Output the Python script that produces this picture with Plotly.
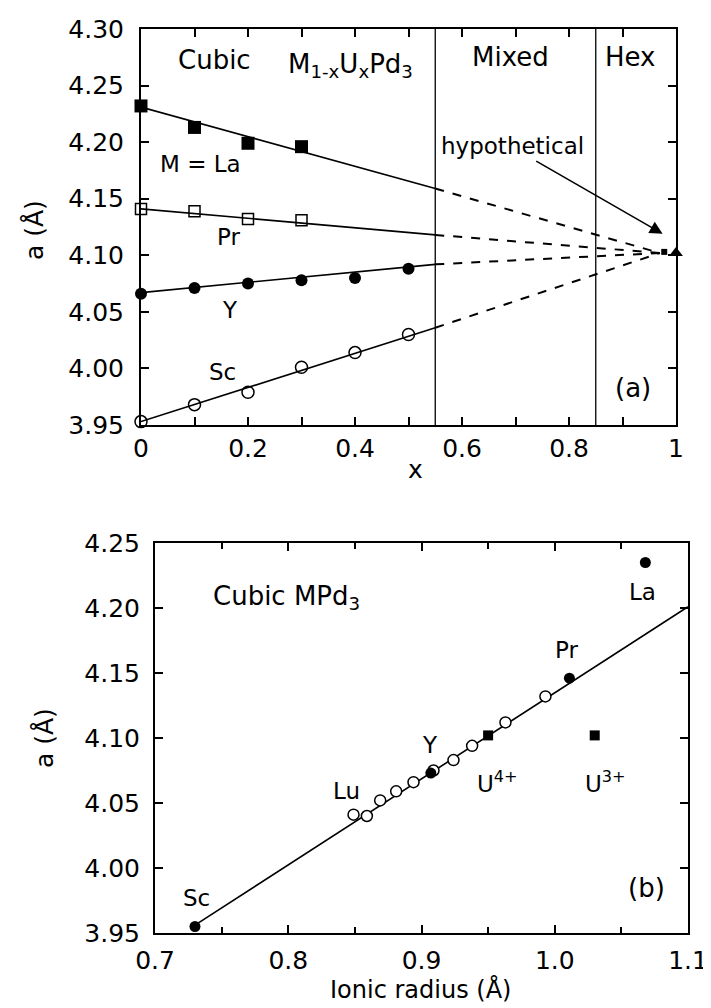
import plotly.graph_objects as go

FONT = "DejaVu Sans, Liberation Sans, Arial, sans-serif"

# ---------------- panel (a) data ----------------
x_meas = [0.0, 0.1, 0.2, 0.3]
x_meas6 = [0.0, 0.1, 0.2, 0.3, 0.4, 0.5]
la_a = [4.232, 4.213, 4.199, 4.196]
pr_a = [4.141, 4.139, 4.132, 4.131]
y_a = [4.066, 4.071, 4.075, 4.078, 4.080, 4.088]
sc_a = [3.953, 3.968, 3.979, 4.001, 4.014, 4.030]

# fitted lines: solid part (x=0 .. 0.55) and dashed extrapolation to hypothetical point
fit_x_solid = [0.0, 0.55]
fit_x_dash = [0.55, 0.97]
la_fit = [4.231, 4.159]
pr_fit = [4.141, 4.118]
y_fit = [4.067, 4.092]
sc_fit = [3.953, 4.036]
conv_y = 4.102

hyp_x = [0.978]
hyp_y = [4.103]
upd3_x = [1.0]
upd3_y = [4.102]

phase_bounds = [0.55, 0.85]

# ---------------- panel (b) data ----------------
open_r = [0.849, 0.859, 0.869, 0.881, 0.894, 0.909, 0.924, 0.938, 0.963, 0.993]
open_a = [4.041, 4.040, 4.052, 4.059, 4.066, 4.075, 4.083, 4.094, 4.112, 4.132]
filled_r = [0.730, 0.907, 1.011, 1.068]
filled_a = [3.955, 4.073, 4.146, 4.235]
u_r = [0.950, 1.030]
u_a = [4.102, 4.102]
line_r = [0.730, 1.100]
line_a = [3.956, 4.201]

# page geometry: the figure sits 8 px in from the page corner (default body margin)
W, H, OFF = 703, 1000, 8


def px_x(p):
    return (p - OFF) / W


def px_y(p):
    return 1 - (p - OFF) / H


fig = go.Figure()

# panel (a)
for fy in [la_fit, pr_fit, y_fit, sc_fit]:
    fig.add_trace(go.Scatter(x=fit_x_solid, y=fy, mode="lines",
                             line=dict(color="black", width=1.6), xaxis="x", yaxis="y"))
    fig.add_trace(go.Scatter(x=fit_x_dash, y=[fy[-1], conv_y], mode="lines",
                             line=dict(color="black", width=2, dash="dash"), xaxis="x", yaxis="y"))

for xb in phase_bounds:
    fig.add_trace(go.Scatter(x=[xb, xb], y=[3.95, 4.30], mode="lines",
                             line=dict(color="black", width=1.3), xaxis="x", yaxis="y"))

fig.add_trace(go.Scatter(x=x_meas, y=la_a, mode="markers", cliponaxis=False,
                         marker=dict(symbol="square", size=13, color="black"), xaxis="x", yaxis="y"))
fig.add_trace(go.Scatter(x=x_meas, y=pr_a, mode="markers", cliponaxis=False,
                         marker=dict(symbol="square-open", size=11, color="black", line=dict(width=1.5)),
                         xaxis="x", yaxis="y"))
fig.add_trace(go.Scatter(x=x_meas6, y=y_a, mode="markers", cliponaxis=False,
                         marker=dict(symbol="circle", size=12, color="black"), xaxis="x", yaxis="y"))
fig.add_trace(go.Scatter(x=x_meas6, y=sc_a, mode="markers", cliponaxis=False,
                         marker=dict(symbol="circle-open", size=12, color="black", line=dict(width=1.5)),
                         xaxis="x", yaxis="y"))
fig.add_trace(go.Scatter(x=hyp_x, y=hyp_y, mode="markers", cliponaxis=False,
                         marker=dict(symbol="square", size=6, color="black"), xaxis="x", yaxis="y"))
fig.add_trace(go.Scatter(x=upd3_x, y=upd3_y, mode="markers", cliponaxis=False,
                         marker=dict(symbol="triangle-up", size=12, color="black"), xaxis="x", yaxis="y"))

# panel (b)
fig.add_trace(go.Scatter(x=line_r, y=line_a, mode="lines",
                         line=dict(color="black", width=1.6), xaxis="x2", yaxis="y2"))
fig.add_trace(go.Scatter(x=open_r, y=open_a, mode="markers", cliponaxis=False,
                         marker=dict(symbol="circle", size=11, color="white", line=dict(width=1.5, color="black")),
                         xaxis="x2", yaxis="y2"))
fig.add_trace(go.Scatter(x=filled_r, y=filled_a, mode="markers", cliponaxis=False,
                         marker=dict(symbol="circle", size=11, color="black"), xaxis="x2", yaxis="y2"))
fig.add_trace(go.Scatter(x=u_r, y=u_a, mode="markers", cliponaxis=False,
                         marker=dict(symbol="square", size=10, color="black"), xaxis="x2", yaxis="y2"))

axis_common = dict(showgrid=False, zeroline=False, showline=True, linecolor="black", linewidth=2,
                   mirror="allticks", ticks="inside", ticklen=8, tickwidth=1.5, tickcolor="black",
                   automargin=False,
                   tickfont=dict(family=FONT, size=25, color="black"))

fig.update_layout(
    template="none",
    width=W, height=H, margin=dict(l=0, r=0, t=0, b=0, pad=0),
    paper_bgcolor="white", plot_bgcolor="white", showlegend=False,
    xaxis=dict(domain=[px_x(141), px_x(676)], range=[0, 1], dtick=0.2, tick0=0, anchor="y",
               minor=dict(dtick=0.1, ticks="inside", ticklen=8, tickcolor="black", tickwidth=1.5),
               ticklabelstandoff=0, **axis_common),
    yaxis=dict(domain=[px_y(425), px_y(29)], range=[3.95, 4.30], dtick=0.05, tick0=3.95,
               tickformat=".2f", anchor="x", ticklabelstandoff=10, **axis_common),
    xaxis2=dict(domain=[px_x(155), px_x(688)], range=[0.7, 1.1], dtick=0.1, tick0=0.7, tickformat=".1f",
                anchor="y2",
                minor=dict(dtick=0.05, ticks="inside", ticklen=6, tickcolor="black", tickwidth=1.5),
                ticklabelstandoff=4, **axis_common),
    yaxis2=dict(domain=[px_y(933), px_y(543)], range=[3.95, 4.25], dtick=0.05, tick0=3.95,
                tickformat=".2f", anchor="x2", ticklabelstandoff=8, **axis_common),
)


def txt(x, y, s, xr="x", yr="y", size=25, xanchor="center"):
    fig.add_annotation(x=x, y=y, xref=xr, yref=yr, text=s, showarrow=False,
                       font=dict(family=FONT, size=size, color="black"), xanchor=xanchor, yanchor="middle")


# panel (a) labels
txt(0.138, 4.273, "Cubic", size=26)
txt(0.392, 4.268, "M<sub>1-x</sub>U<sub>x</sub>Pd<sub>3</sub>", size=26)
txt(0.69, 4.275, "Mixed", size=26)
txt(0.914, 4.275, "Hex", size=26)
txt(0.695, 4.197, "hypothetical", size=23)
txt(0.112, 4.181, "M = La", size=23)
txt(0.163, 4.116, "Pr", size=23)
txt(0.166, 4.052, "Y", size=23)
txt(0.153, 3.997, "Sc", size=23)
txt(0.92, 3.983, "(a)", size=26)
fig.add_annotation(x=0.975, y=4.119, ax=0.736, ay=4.184, xref="x", yref="y", axref="x", ayref="y",
                   text="", showarrow=True, arrowhead=2, arrowsize=1.6, arrowwidth=1.6, arrowcolor="black")

# panel (b) labels
txt(0.799, 4.208, "Cubic MPd<sub>3</sub>", xr="x2", yr="y2", size=26)
txt(1.066, 4.212, "La", xr="x2", yr="y2", size=23)
txt(1.009, 4.168, "Pr", xr="x2", yr="y2", size=23)
txt(0.906, 4.095, "Y", xr="x2", yr="y2", size=23)
txt(0.957, 4.066, "U<sup>4+</sup>", xr="x2", yr="y2", size=23)
txt(1.038, 4.066, "U<sup>3+</sup>", xr="x2", yr="y2", size=23)
txt(0.844, 4.059, "Lu", xr="x2", yr="y2", size=23)
txt(0.7315, 3.977, "Sc", xr="x2", yr="y2", size=23)
txt(1.069, 3.985, "(b)", xr="x2", yr="y2", size=26)


# axis titles (positions in page pixels)
def ptxt(px, py, s, angle=0, size=25):
    fig.add_annotation(x=px_x(px), y=px_y(py), xref="paper", yref="paper", text=s, showarrow=False,
                       textangle=angle, font=dict(family=FONT, size=size, color="black"),
                       xanchor="center", yanchor="middle")


ptxt(35, 230, "a (Å)", -90)
ptxt(415, 470, "x")
ptxt(44, 738, "a (Å)", -90)
ptxt(421, 989, "Ionic radius (Å)", size=24)

fig.write_html("out.html")
